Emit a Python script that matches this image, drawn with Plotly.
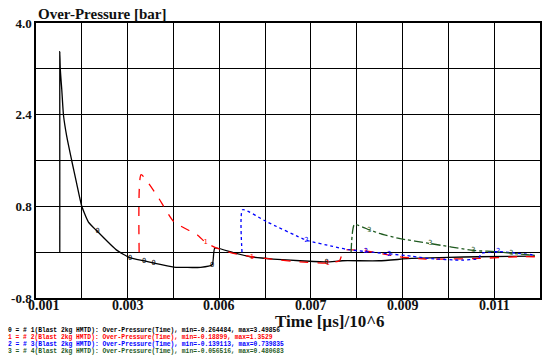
import plotly.graph_objects as go

# ---- data (time in s, over-pressure in bar) ----
black_t = [0.001519, 0.001519, 0.00153, 0.001563, 0.0016, 0.001671, 0.001779, 0.001887, 0.001996,
           0.002141, 0.002342, 0.002753, 0.003056, 0.003359, 0.003569, 0.004009, 0.004593, 0.004846,
           0.004903, 0.005307, 0.005675, 0.006173, 0.006758, 0.007342, 0.007688, 0.008489, 0.009203,
           0.010004, 0.010654, 0.011887]
black_p = [0.0, 3.499, 3.20, 2.83, 2.39, 2.02, 1.60, 1.20, 0.81,
           0.53, 0.36, 0.04, -0.10, -0.15, -0.19, -0.26, -0.264, -0.22,
           0.07, -0.01, -0.08, -0.12, -0.15, -0.17, -0.15, -0.15, -0.11,
           -0.09, -0.08, -0.07]
black_marks = [10, 12, 13, 14, 17, 23]

red_t = [0.003251, 0.003294, 0.003656, 0.004009, 0.004522, 0.004701, 0.004918, 0.005307, 0.005712,
         0.006145, 0.006758, 0.007364, 0.007623, 0.007688, 0.007768, 0.008201, 0.008922, 0.0095,
         0.009933, 0.010654, 0.011519, 0.011887]
red_p = [0.0, 1.353, 0.97, 0.53, 0.30, 0.17, 0.08, -0.02, -0.08,
         -0.12, -0.17, -0.189, -0.15, -0.02, 0.04, 0.02, -0.08, -0.12,
         -0.12, -0.11, -0.08, -0.08]
red_marks = [5, 8, 11, 15]

blue_t = [0.005496, 0.005509, 0.006037, 0.006903, 0.007478, 0.007768, 0.008201, 0.008706, 0.009203,
          0.009571, 0.010286, 0.010654, 0.010725, 0.011087, 0.011519, 0.011887]
blue_p = [0.0, 0.74, 0.53, 0.21, 0.10, 0.05, 0.01, -0.03, -0.07,
          -0.11, -0.139, -0.11, -0.02, 0.01, -0.02, -0.05]
blue_marks = [3, 6, 7, 13]

green_t = [0.007877, 0.007948, 0.008273, 0.008489, 0.008922, 0.009608, 0.010545, 0.011015, 0.011374,
           0.011887]
green_p = [0.0, 0.481, 0.39, 0.33, 0.24, 0.15, 0.03, 0.01, -0.02, -0.056]
green_marks = [2, 5, 6, 8]

series_names = ["0", "1", "2", "3"]
series_colors = ["#000000", "#ff0000", "#0000ff", "#1f5a1f"]
series_dash = ["solid", "dash", "dot", "dashdot"]
legend_lines = [
    "0 = # 1(Blast 2kg HMTD): Over-Pressure(Time), min=-0.264484, max=3.49856",
    "1 = # 2(Blast 2kg HMTD): Over-Pressure(Time), min=-0.18899, max=1.3529",
    "2 = # 3(Blast 2kg HMTD): Over-Pressure(Time), min=-0.139113, max=0.739835",
    "3 = # 4(Blast 2kg HMTD): Over-Pressure(Time), min=-0.056516, max=0.480683",
]

x_grid = [0.001 + 0.001 * k for k in range(12)]
x_tick_vals = [0.001, 0.003, 0.005, 0.007, 0.009, 0.011]
x_tick_labels = ["0.001", "0.003", "0.006", "0.007", "0.009", "0.011"]
y_grid = [-0.8, 0.0, 0.8, 1.6, 2.4, 3.2, 4.0]
y_tick_labels = ["-0.8", "", "0.8", "", "2.4", "", "4.0"]

SERIF = "Liberation Serif, Times New Roman, serif"

W, H = 553, 358
L, R, T, B = 34, 11, 23, 60
pw, ph = W - L - R, H - T - B

fig = go.Figure()
all_series = [(black_t, black_p, black_marks), (red_t, red_p, red_marks),
              (blue_t, blue_p, blue_marks), (green_t, green_p, green_marks)]
for i, (t, p, marks) in enumerate(all_series):
    fig.add_trace(go.Scatter(x=t, y=p, mode="lines",
                             line=dict(color=series_colors[i], width=1.3, dash=series_dash[i],
                                       shape="spline", smoothing=0.5),
                             showlegend=False, hoverinfo="skip"))
    fig.add_trace(go.Scatter(x=[t[j] for j in marks], y=[p[j] for j in marks], mode="text",
                             text=[series_names[i]] * len(marks), textposition="middle center",
                             textfont=dict(family="DejaVu Sans Mono", size=7, color=series_colors[i]),
                             showlegend=False, hoverinfo="skip"))

annotations = []
for k, (v, lab) in enumerate(zip(x_tick_vals, x_tick_labels)):
    annotations.append(dict(x=v, y=0, xref="x", yref="paper", yanchor="top", xanchor="center",
                            xshift=8 if k == 0 else 0, yshift=2, text="<b>%s</b>" % lab,
                            showarrow=False, font=dict(family=SERIF, size=14, color="#111")))
annotations.append(dict(x=0.001, y=1, xref="x", yref="paper", xanchor="left", yanchor="bottom",
                        yshift=-1, text="<b>Over-Pressure [bar]</b>", showarrow=False,
                        font=dict(family=SERIF, size=15, color="#111")))
annotations.append(dict(x=0.00741, y=0, xref="x", yref="paper", yanchor="top", xanchor="center",
                        yshift=-12, text="<b>Time [µs]/10^6</b>", showarrow=False,
                        font=dict(family=SERIF, size=17, color="#111")))
for i, line in enumerate(legend_lines):
    annotations.append(dict(x=(4 - L) / pw, y=(H - B - (330 + 7 * i)) / ph, xref="paper", yref="paper",
                            text="<b>%s</b>" % line, showarrow=False, xanchor="left", yanchor="middle",
                            font=dict(family="Liberation Mono", size=6.3, color=series_colors[i])))

fig.update_layout(
    width=W, height=H,
    margin=dict(l=L, r=R, t=T, b=B),
    paper_bgcolor="white", plot_bgcolor="white",
    annotations=annotations,
    xaxis=dict(range=[0.001, 0.012], tickvals=x_grid, showticklabels=False,
               showgrid=True, gridcolor="#000", gridwidth=1, zeroline=False,
               showline=True, linecolor="#000", linewidth=1.5, mirror=True, ticks=""),
    yaxis=dict(range=[-0.8, 4.0], tickvals=y_grid,
               ticktext=["<b>%s</b>" % s if s else "" for s in y_tick_labels],
               showgrid=True, gridcolor="#000", gridwidth=1, zeroline=False,
               showline=True, linecolor="#000", linewidth=1.5, mirror=True, ticks="",
               tickfont=dict(family=SERIF, size=13, color="#111")),
)

fig.write_html("out.html")
